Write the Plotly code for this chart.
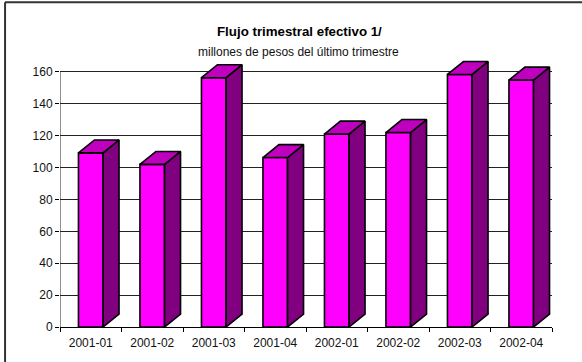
import plotly.graph_objects as go

categories = ["2001-01", "2001-02", "2001-03", "2001-04", "2002-01", "2002-02", "2002-03", "2002-04"]
values = [109.2, 102, 156.4, 106.3, 121, 122, 158.4, 154.9]
y_ticks = [0, 20, 40, 60, 80, 100, 120, 140, 160]

W, H = 582, 362
L, R, B = 60, 552.5, 327.5
y_max = 170                  # headroom so the 3D tops are not clipped
px_per_unit = 256 / 160
T = B - y_max * px_per_unit
bar_w = 0.4
dx = 16 / ((R - L) / 8)      # depth in category units
dy = 13 / px_per_unit        # depth in value units
FONT = "Liberation Sans, Arial, sans-serif"
centers = [i + 0.5 for i in range(len(categories))]

fig = go.Figure()
fig.add_bar(x=centers, y=values, width=bar_w, marker=dict(color="#FF00FF", line=dict(color="black", width=1.6)),
            showlegend=False, hoverinfo="skip")
for c, v in zip(centers, values):
    x0, x1 = c - bar_w / 2, c + bar_w / 2
    fig.add_scatter(x=[x1, x1 + dx, x1 + dx, x1, x1], y=[0, dy, v + dy, v, 0], mode="lines",
                    fill="toself", fillcolor="#800080", line=dict(color="black", width=1.6),
                    showlegend=False, hoverinfo="skip")
    fig.add_scatter(x=[x0, x0 + dx, x1 + dx, x1, x0], y=[v, v + dy, v + dy, v, v], mode="lines",
                    fill="toself", fillcolor="#BF00BF", line=dict(color="black", width=1.6),
                    showlegend=False, hoverinfo="skip")

fig.update_layout(
    width=W, height=H, autosize=False,
    margin=dict(l=L, r=W - R, t=T, b=H - B, pad=0),
    paper_bgcolor="white", plot_bgcolor="white",
    font=dict(family=FONT, size=12, color="black"),
    xaxis=dict(range=[0, 8], tickmode="array", tickvals=centers, ticktext=categories, ticks="",
               showgrid=False, zeroline=False, showline=True, linecolor="black", linewidth=1,
               tickfont=dict(size=12, color="#111111"), ticklabelstandoff=5,
               minor=dict(tickmode="linear", tick0=0, dtick=1, ticks="outside", ticklen=4,
                          tickcolor="black", tickwidth=1, showgrid=False)),
    yaxis=dict(range=[0, y_max], tickmode="array", tickvals=y_ticks, ticks="outside", ticklen=4,
               tickcolor="black", tickwidth=1, showgrid=True, gridcolor="#222222", gridwidth=1,
               zeroline=False, showline=False, tickfont=dict(size=12, color="#111111")),
    annotations=[
        dict(text="<b>Flujo trimestral efectivo 1/</b>", xref="paper", yref="paper",
             x=(300 - L) / (R - L), y=(B - 31) / (B - T), xanchor="center", yanchor="middle",
             showarrow=False, font=dict(size=13.3, color="black")),
        dict(text="millones de pesos del último trimestre", xref="paper", yref="paper",
             x=(299 - L) / (R - L), y=(B - 51) / (B - T), xanchor="center", yanchor="middle",
             showarrow=False, font=dict(size=12, color="#111111")),
    ],
    shapes=[
        dict(type="line", xref="x", yref="y", x0=0, x1=0, y0=0, y1=y_ticks[-1],
             line=dict(color="#222222", width=1), layer="below"),
        dict(type="line", xref="paper", yref="paper", x0=(5 - L) / (R - L), x1=(W + 5 - L) / (R - L),
             y0=(B - 1.5) / (B - T), y1=(B - 1.5) / (B - T), line=dict(color="#333333", width=2)),
        dict(type="line", xref="paper", yref="paper", x0=(5 - L) / (R - L), x1=(5 - L) / (R - L),
             y0=(B - 1.5) / (B - T), y1=(B - H - 5) / (B - T), line=dict(color="#333333", width=2)),
    ],
)

fig.write_html("out.html", config={"displayModeBar": False},
               post_script="document.body.style.margin='0';document.documentElement.style.overflow='hidden';")
